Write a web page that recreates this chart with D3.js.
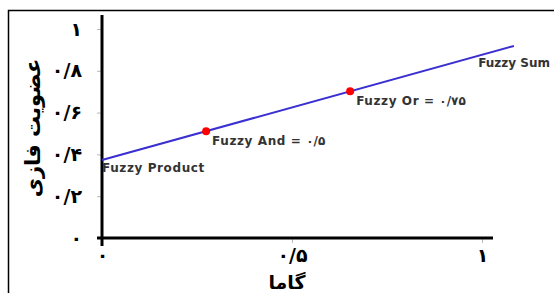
<!doctype html>
<html>
<head>
<meta charset="utf-8">
<title>Fuzzy gamma</title>
<script src="https://d3js.org/d3.v7.min.js"></script>
<style>
    body { margin: 0; background: #fff; }
</style>
</head>
<body>
<script>

    // data
    var lineX = [0, 1.084];
    var lineY = [0.373, 0.919];
    var pointX = [0.274, 0.653];
    var pointY = [0.511, 0.702];
    var pointLabels = ["Fuzzy And = ۰/۵", "Fuzzy Or = ۰/۷۵"];
    var endLabels = ["Fuzzy Product", "Fuzzy Sum"];
    var yTicks = [0, 0.2, 0.4, 0.6, 0.8, 1];
    var yTickLabels = ["۰", "۰/۲", "۰/۴", "۰/۶", "۰/۸", "۱"];
    var xTicks = [0, 0.5, 1];
    var xTickLabels = ["۰", "۰/۵", "۱"];
    var xTitle = "گاما";
    var yTitle = "عضویت فازی";

    var width = 554, height = 293;

    var svg = d3.select("body").append("svg")
        .attr("width", width)
        .attr("height", height);

    var x = d3.scaleLinear().domain([0, 1]).range([102, 482]);
    var y = d3.scaleLinear().domain([0, 1]).range([238, 29]);

    // frame
    svg.append("rect")
        .attr("x", 8.5)
        .attr("y", 10.5)
        .attr("width", 560)
        .attr("height", 300)
        .attr("fill", "none")
        .attr("stroke", "black")
        .attr("stroke-width", 1.5);

    svg.append("g")
        .attr("transform", "translate(" + x(0) + ",0)")
        .call(d3.axisLeft(y)
            .tickValues(yTicks)
            .tickSize(5)
            .tickPadding(15)
            .tickFormat(function(d, i) { return yTickLabels[i]; }));

    svg.append("g")
        .attr("transform", "translate(0," + y(0) + ")")
        .call(d3.axisBottom(x)
            .tickValues(xTicks)
            .tickSize(5)
            .tickPadding(6)
            .tickFormat(function(d, i) { return xTickLabels[i]; }));

    svg.selectAll(".domain").remove();
    svg.selectAll(".tick line").attr("stroke", "#bbb");
    svg.selectAll(".tick text")
        .attr("font-family", "DejaVu Sans, sans-serif")
        .attr("font-size", "19px")
        .attr("font-weight", "bold")
        .attr("fill", "black");

    // thick axis lines
    svg.append("line")
        .attr("x1", x(0))
        .attr("y1", 15)
        .attr("x2", x(0))
        .attr("y2", y(0) + 8)
        .attr("stroke", "black")
        .attr("stroke-width", 3);

    svg.append("line")
        .attr("x1", x(0) - 5)
        .attr("y1", y(0))
        .attr("x2", 493)
        .attr("y2", y(0))
        .attr("stroke", "black")
        .attr("stroke-width", 3);

    // titles
    svg.append("text")
        .attr("x", 287)
        .attr("y", 289)
        .attr("text-anchor", "middle")
        .attr("font-family", "DejaVu Sans, sans-serif")
        .attr("font-size", "19px")
        .attr("font-weight", "bold")
        .text(xTitle);

    svg.append("text")
        .attr("transform", "translate(40,128) rotate(-90)")
        .attr("text-anchor", "middle")
        .attr("font-family", "DejaVu Sans, sans-serif")
        .attr("font-size", "21px")
        .attr("font-weight", "bold")
        .text(yTitle);

    // blue line
    var lineData = lineX.map(function(d, i) { return [d, lineY[i]]; });
    svg.append("path")
        .datum(lineData)
        .attr("d", d3.line()
            .x(function(d) { return x(d[0]); })
            .y(function(d) { return y(d[1]); }))
        .attr("fill", "none")
        .attr("stroke", "#3a2fd0")
        .attr("stroke-width", 2);

    // red points
    svg.selectAll(".pt")
        .data(pointX)
        .enter().append("circle")
        .attr("class", "pt")
        .attr("cx", function(d) { return x(d); })
        .attr("cy", function(d, i) { return y(pointY[i]); })
        .attr("r", 4)
        .attr("fill", "red");

    function labelStyle(sel) {
        sel.attr("font-family", "DejaVu Sans, sans-serif")
            .attr("font-size", "12px")
            .attr("font-weight", "bold")
            .attr("letter-spacing", "0.6px")
            .attr("fill", "#333");
    }

    svg.selectAll(".ptlabel")
        .data(pointX)
        .enter().append("text")
        .attr("class", "ptlabel")
        .attr("x", function(d) { return x(d) + 6; })
        .attr("y", function(d, i) { return y(pointY[i]) + 14; })
        .call(labelStyle)
        .text(function(d, i) { return pointLabels[i]; });

    // end labels
    svg.append("text")
        .attr("x", x(lineX[0]))
        .attr("y", y(lineY[0]) + 12)
        .call(labelStyle)
        .text(endLabels[0]);

    // kept inside the window so it is not cut off
    svg.append("text")
        .attr("x", x(0.99))
        .attr("y", y(lineY[1]) + 21)
        .call(labelStyle)
        .attr("letter-spacing", "0px")
        .text(endLabels[1]);

</script>
</body>
</html>
